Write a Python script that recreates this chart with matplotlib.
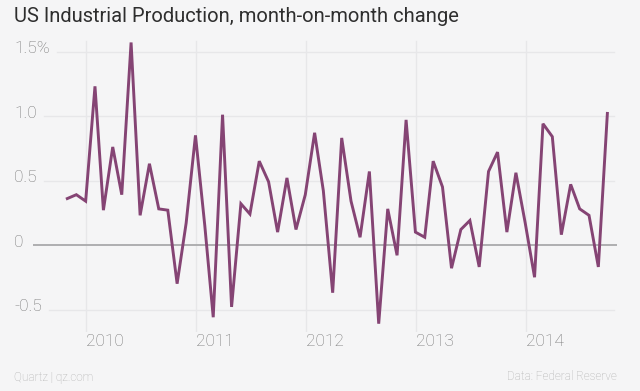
import pandas as pd
import numpy as np
import matplotlib
matplotlib.use('Agg')
import matplotlib.pyplot as plt

# --- DATA ---
# monthly % change, Oct 2009 .. Sep 2014 (plotted at month end)
months = pd.date_range('2009-10-01', '2014-09-01', freq='MS')
change = [0.36, 0.39, 0.34, 1.23, 0.27, 0.76, 0.39, 1.57, 0.23, 0.63,
          0.28, 0.27, -0.30, 0.17, 0.85, 0.15, -0.56, 1.01, -0.48, 0.32,
          0.24, 0.65, 0.49, 0.10, 0.52, 0.12, 0.39, 0.87, 0.42, -0.37,
          0.83, 0.34, 0.06, 0.57, -0.61, 0.28, -0.08, 0.97, 0.10, 0.06,
          0.65, 0.45, -0.18, 0.12, 0.19, -0.17, 0.57, 0.72, 0.10, 0.56,
          0.17, -0.25, 0.94, 0.84, 0.08, 0.47, 0.28, 0.23, -0.17, 1.02]
years = [2010, 2011, 2012, 2013, 2014]
y_ticks = [1.5, 1.0, 0.5, 0, -0.5]
y_labels = ['1.5%', '1.0', '0.5', '0', '-0.5']

title = 'US Industrial Production, month-on-month change'
credit = 'Quartz | qz.com'
source = 'Data: Federal Reserve'

# --- STYLE ---
bg = '#f5f5f6'
line_col = '#854474'
grid_col = '#e7e7e9'
zero_col = '#a9a9ab'
label_col = '#777777'
font = ['Roboto', 'DejaVu Sans']

W, H = 640, 391
fig = plt.figure(figsize=(W / 100, H / 100), dpi=100, facecolor=bg)
ax = fig.add_axes([33 / W, (H - 332) / H, (617 - 33) / W, (332 - 38) / H])
ax.set_facecolor(bg)
for s in ax.spines.values():
    s.set_visible(False)

x = months + pd.offsets.MonthEnd(0)
ax.plot(x, change, color=line_col, lw=2.1, solid_joinstyle='miter', zorder=3)

ax.set_xlim(pd.Timestamp('2009-07-09'), pd.Timestamp('2014-11-01'))
ax.set_ylim((245 - 332) / 129, (245 - 38) / 129)

# year gridlines + labels (left aligned at the gridline)
ax.set_xticks([])
ax.set_yticks([])
for y in years:
    d = pd.Timestamp(f'{y}-01-01')
    ax.axvline(d, color=grid_col, lw=1, zorder=1, ymin=0.0, ymax=0.99)
    ax.text(d, -0.006, str(y), transform=ax.get_xaxis_transform(),
            ha='left', va='top', fontsize=12.5, color=label_col,
            family=font, fontweight='light')

lbl_x = (14 - 33) / (617 - 33)
texts = []
for v, lab in zip(y_ticks, y_labels):
    t = ax.text(lbl_x, v + 0.02, lab, transform=ax.get_yaxis_transform(),
                ha='left', va='center', fontsize=12.5, color=label_col,
                family=font, fontweight='light')
    texts.append(t)

fig.canvas.draw()
ax_x0 = ax.get_window_extent().x0
ax_w = ax.get_window_extent().width
for v, t in zip(y_ticks, texts):
    end = t.get_window_extent().x1 + 7
    start = max(0, (end - ax_x0) / ax_w)
    if v == 0:
        ax.axhline(v, xmin=start, xmax=1, color=zero_col, lw=1.3, zorder=2)
    else:
        ax.axhline(v, xmin=start, xmax=0.995, color=grid_col, lw=1, zorder=1)

fig.text(14 / W, 1 - 17 / H, title, ha='left', va='center', fontsize=14.5,
         color='#2e2e2e', family=font)
fig.text(14 / W, 1 - 377 / H, credit, ha='left', va='center', fontsize=8.5,
         color='#b0b0b0', family=font, fontweight='light')
fig.text(617 / W, 1 - 377 / H, source, ha='right', va='center', fontsize=8.5,
         color='#b0b0b0', family=font, fontweight='light')

fig.savefig('out.png', dpi=100, facecolor=bg)
